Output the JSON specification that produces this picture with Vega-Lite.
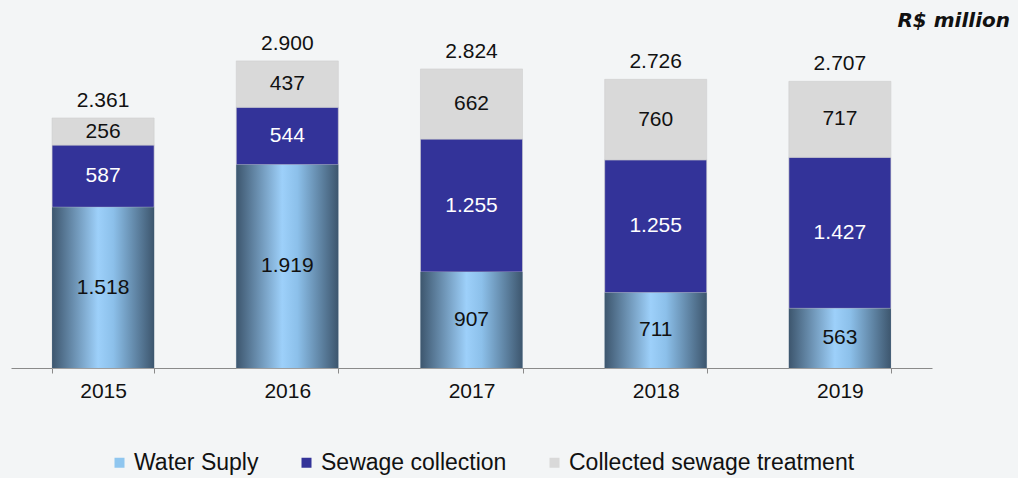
{
  "$schema": "https://vega.github.io/schema/vega-lite/v6.json",
  "width": 921,
  "height": 318,
  "autosize": "none",
  "padding": {"left": 11, "top": 50, "right": 86, "bottom": 110},
  "background": "#f3f5f6",
  "config": {
    "view": {"stroke": null},
    "font": "Liberation Sans",
    "locale": {"number": {"decimal": ",", "thousands": ".", "grouping": [3], "currency": ["R$", ""]}}
  },
  "title": {
    "text": "R$ million",
    "anchor": "end",
    "frame": "group",
    "orient": "top",
    "baseline": "middle",
    "offset": 10,
    "dx": 78,
    "dy": 18,
    "font": "DejaVu Sans",
    "fontSize": 20,
    "fontWeight": "bold",
    "fontStyle": "italic",
    "color": "#111111"
  },
  "data": {
    "values": [
      {"year": "2015", "series": "Water Suply", "value": 1518},
      {"year": "2015", "series": "Sewage collection", "value": 587},
      {"year": "2015", "series": "Collected sewage treatment", "value": 256},
      {"year": "2016", "series": "Water Suply", "value": 1919},
      {"year": "2016", "series": "Sewage collection", "value": 544},
      {"year": "2016", "series": "Collected sewage treatment", "value": 437},
      {"year": "2017", "series": "Water Suply", "value": 907},
      {"year": "2017", "series": "Sewage collection", "value": 1255},
      {"year": "2017", "series": "Collected sewage treatment", "value": 662},
      {"year": "2018", "series": "Water Suply", "value": 711},
      {"year": "2018", "series": "Sewage collection", "value": 1255},
      {"year": "2018", "series": "Collected sewage treatment", "value": 760},
      {"year": "2019", "series": "Water Suply", "value": 563},
      {"year": "2019", "series": "Sewage collection", "value": 1427},
      {"year": "2019", "series": "Collected sewage treatment", "value": 717}
    ]
  },
  "encoding": {
    "x": {
      "field": "year",
      "type": "ordinal",
      "scale": {"paddingInner": 0.446, "paddingOuter": 0.223},
      "axis": {
        "title": null,
        "labelAngle": 0,
        "labelFontSize": 21,
        "labelColor": "#111111",
        "labelPadding": 7,
        "domainColor": "#8a8a8a",
        "tickColor": "#8a8a8a",
        "tickSize": 5,
        "tickBand": "extent",
        "grid": false
      }
    }
  },
  "layer": [
    {
      "mark": {"type": "bar", "stroke": "#cfcfcf", "strokeWidth": 0.6},
      "encoding": {
        "y": {"field": "value", "type": "quantitative", "stack": "zero", "scale": {"domain": [0, 3003], "nice": false, "zero": true}, "axis": null},
        "order": {"field": "series", "sort": "descending"},
        "color": {
          "field": "series",
          "type": "nominal",
          "scale": {
            "domain": ["Water Suply", "Sewage collection", "Collected sewage treatment"],
            "range": ["#8fc6ef", "#333399", "#d9d9d9"]
          },
          "legend": {
            "title": null,
            "orient": "none",
            "direction": "horizontal",
            "legendX": 97,
            "legendY": 401,
            "symbolType": "square",
            "symbolSize": 100,
            "symbolStrokeWidth": 0,
            "labelFontSize": 23,
            "labelColor": "#111111",
            "labelOffset": 3,
            "labelLimit": 500,
            "columnPadding": 36
          }
        }
      }
    },
    {
      "transform": [{"filter": "datum.series === 'Water Suply'"}],
      "mark": {
        "type": "bar",
        "color": {
          "gradient": "linear",
          "x1": 0, "y1": 0, "x2": 1, "y2": 0,
          "stops": [
            {"offset": 0, "color": "#3d566e"},
            {"offset": 0.45, "color": "#9dd0fa"},
            {"offset": 0.6, "color": "#8cc0ea"},
            {"offset": 1, "color": "#3d566e"}
          ]
        }
      },
      "encoding": {
        "y": {"field": "value", "type": "quantitative", "stack": "zero"}
      }
    },
    {
      "mark": {"type": "text", "fontSize": 21, "baseline": "middle"},
      "encoding": {
        "y": {"field": "value", "type": "quantitative", "stack": "zero", "bandPosition": 0.5},
        "order": {"field": "series", "sort": "descending"},
        "detail": {"field": "series"},
        "text": {"field": "value", "type": "quantitative", "format": ",d"},
        "color": {
          "condition": {"test": "datum.series === 'Sewage collection'", "value": "#ffffff"},
          "value": "#111111"
        }
      }
    },
    {
      "mark": {"type": "text", "fontSize": 21, "baseline": "alphabetic", "dy": -11, "color": "#111111"},
      "encoding": {
        "y": {"aggregate": "sum", "field": "value", "type": "quantitative", "stack": null},
        "text": {"aggregate": "sum", "field": "value", "type": "quantitative", "format": ",d"}
      }
    }
  ]
}
